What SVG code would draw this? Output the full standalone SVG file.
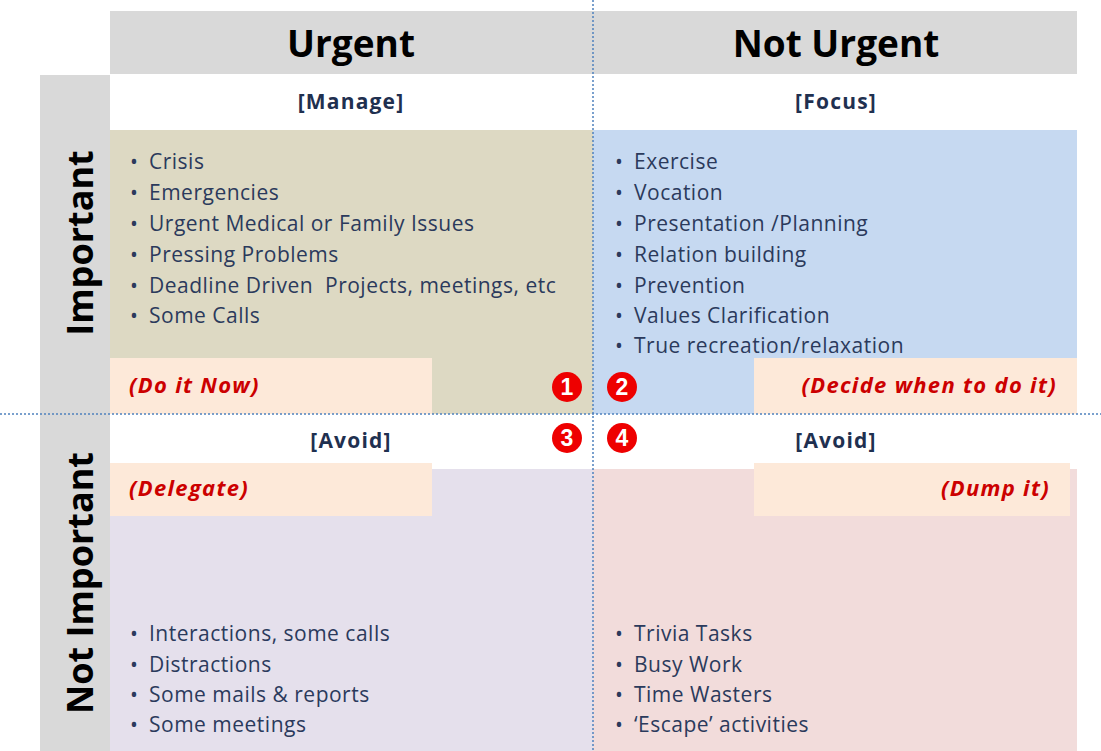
<svg xmlns="http://www.w3.org/2000/svg" width="1101" height="751" viewBox="0 0 1101 751">
  <style>
    .hdr { font-family: "Open Sans", "Liberation Sans", sans-serif; font-weight: 700; font-size: 37px; fill: #000; }
    .vhdr { font-family: "Open Sans", "Liberation Sans", sans-serif; font-weight: 700; font-size: 36px; fill: #000; }
    .tag { font-family: "Open Sans", "Liberation Sans", sans-serif; font-weight: 700; font-size: 21px; letter-spacing: 1.2px; fill: #1f3050; }
    .item { font-family: "Open Sans", "Liberation Sans", sans-serif; font-size: 21px; letter-spacing: 0.5px; fill: #2b3a5c; }
    .act { font-family: "Open Sans", "Liberation Sans", sans-serif; font-weight: 700; font-style: italic; font-size: 22px; letter-spacing: 1.3px; fill: #cc0000; }
    .num { font-family: "Liberation Sans", sans-serif; font-weight: 700; font-size: 23px; fill: #fff; text-anchor: middle; }
    .badge { fill: #ee0000; }
    .divider { stroke: #4f81bd; stroke-width: 1.5; stroke-dasharray: 2 2; fill: none; }
  </style>

  <rect width="1101" height="751" fill="#ffffff"/>

  <!-- axis headers -->
  <g id="header-urgent">
    <rect x="110" y="11" width="483" height="63" fill="#d9d9d9"/>
    <text class="hdr" x="351" y="57" text-anchor="middle">Urgent</text>
  </g>
  <g id="header-not-urgent">
    <rect x="593" y="11" width="484" height="63" fill="#d9d9d9"/>
    <text class="hdr" x="836" y="57" text-anchor="middle">Not Urgent</text>
  </g>
  <g id="header-important">
    <rect x="40" y="75" width="70" height="339" fill="#d9d9d9"/>
    <text class="vhdr" transform="translate(93,243) rotate(-90)" text-anchor="middle">Important</text>
  </g>
  <g id="header-not-important">
    <rect x="40" y="414" width="70" height="337" fill="#d9d9d9"/>
    <text class="vhdr" transform="translate(93,583) rotate(-90)" text-anchor="middle">Not Important</text>
  </g>

  <!-- quadrant 1: urgent & important -->
  <g id="q1-manage">
    <text class="tag" x="351" y="109" text-anchor="middle">[Manage]</text>
    <rect x="110" y="130" width="483" height="284" fill="#ddd9c3"/>
    <rect x="110" y="358" width="322" height="56" fill="#fde9d9"/>
    <g class="item">
      <text x="130" y="169">•<tspan x="149">Crisis</tspan></text>
      <text x="130" y="200">•<tspan x="149">Emergencies</tspan></text>
      <text x="130" y="231">•<tspan x="149">Urgent Medical or Family Issues</tspan></text>
      <text x="130" y="262">•<tspan x="149">Pressing Problems</tspan></text>
      <text x="130" y="293">•<tspan x="149">Deadline Driven </tspan><tspan dx="6">Projects, meetings, etc</tspan></text>
      <text x="130" y="323">•<tspan x="149">Some Calls</tspan></text>
    </g>
    <text class="act" x="129" y="393">(Do it Now)</text>
  </g>

  <!-- quadrant 2: not urgent & important -->
  <g id="q2-focus">
    <text class="tag" x="836" y="109" text-anchor="middle">[Focus]</text>
    <rect x="593" y="130" width="484" height="284" fill="#c6d9f1"/>
    <rect x="754" y="358" width="323" height="56" fill="#fde9d9"/>
    <g class="item">
      <text x="615" y="169">•<tspan x="634">Exercise</tspan></text>
      <text x="615" y="200">•<tspan x="634">Vocation</tspan></text>
      <text x="615" y="231">•<tspan x="634">Presentation /Planning</tspan></text>
      <text x="615" y="262">•<tspan x="634">Relation building</tspan></text>
      <text x="615" y="293">•<tspan x="634">Prevention</tspan></text>
      <text x="615" y="323">•<tspan x="634">Values Clarification</tspan></text>
      <text x="615" y="353">•<tspan x="634">True recreation/relaxation</tspan></text>
    </g>
    <text class="act" x="1057" y="393" text-anchor="end">(Decide when to do it)</text>
  </g>

  <!-- quadrant 3: urgent & not important -->
  <g id="q3-delegate">
    <text class="tag" x="351" y="448" text-anchor="middle">[Avoid]</text>
    <rect x="110" y="469" width="483" height="282" fill="#e5e0ec"/>
    <rect x="110" y="463" width="322" height="53" fill="#fde9d9"/>
    <text class="act" x="129" y="496">(Delegate)</text>
    <g class="item">
      <text x="130" y="641">•<tspan x="149">Interactions, some calls</tspan></text>
      <text x="130" y="672">•<tspan x="149">Distractions</tspan></text>
      <text x="130" y="702">•<tspan x="149">Some mails &amp; reports</tspan></text>
      <text x="130" y="732">•<tspan x="149">Some meetings</tspan></text>
    </g>
  </g>

  <!-- quadrant 4: not urgent & not important -->
  <g id="q4-dump">
    <text class="tag" x="836" y="448" text-anchor="middle">[Avoid]</text>
    <rect x="593" y="469" width="484" height="282" fill="#f2dcdb"/>
    <rect x="754" y="463" width="316" height="53" fill="#fde9d9"/>
    <text class="act" x="1050" y="496" text-anchor="end">(Dump it)</text>
    <g class="item">
      <text x="615" y="641">•<tspan x="634">Trivia Tasks</tspan></text>
      <text x="615" y="672">•<tspan x="634">Busy Work</tspan></text>
      <text x="615" y="702">•<tspan x="634">Time Wasters</tspan></text>
      <text x="615" y="732">•<tspan x="634">‘Escape’ activities</tspan></text>
    </g>
  </g>

  <!-- dotted dividers -->
  <g id="connectors">
    <line class="divider" x1="593" y1="0" x2="593" y2="751"/>
    <line class="divider" x1="0" y1="414" x2="1101" y2="414"/>
  </g>

  <!-- numbered badges -->
  <g id="badge-1">
    <circle class="badge" cx="567" cy="387" r="15"/>
    <text class="num" x="567" y="395">1</text>
  </g>
  <g id="badge-2">
    <circle class="badge" cx="622" cy="387" r="15"/>
    <text class="num" x="622" y="395">2</text>
  </g>
  <g id="badge-3">
    <circle class="badge" cx="567" cy="438" r="15"/>
    <text class="num" x="567" y="446">3</text>
  </g>
  <g id="badge-4">
    <circle class="badge" cx="622" cy="438" r="15"/>
    <text class="num" x="622" y="446">4</text>
  </g>
</svg>
